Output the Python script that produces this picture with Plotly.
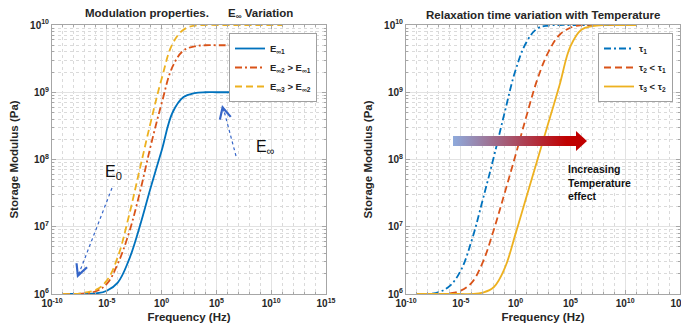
import base64
import plotly.graph_objects as go

# ---------------- data ----------------
freq = [1e-9, 1e-8, 1e-7, 1e-6, 1e-5, 1e-4, 1e-3, 1e-2, 1e-1, 1e0, 1e1,
        1e2, 1e3, 1e4, 1e5, 1e6, 1e7, 1e8, 1e9, 1e10, 1e11]

# left panel : E_inf variation
E_inf1 = [1.0e6, 1.0e6, 1.0e6, 1.02e6, 1.12e6, 1.48e6, 3.16e6, 1.0e7, 3.8e7, 1.35e8, 5.0e8,
          8.5e8, 9.7e8, 1.0e9, 1.0e9, 1.0e9, 1.0e9, 1.0e9, 1.0e9, 1.0e9, 1.0e9]
E_inf2 = [1.0e6, 1.0e6, 1.02e6, 1.1e6, 1.41e6, 2.82e6, 7.9e6, 3.16e7, 1.58e8, 6.8e8, 2.4e9,
          4.17e9, 4.8e9, 5.0e9, 5.0e9, 5.0e9, 5.0e9, 5.0e9, 5.0e9, 5.0e9, 5.0e9]
E_inf3 = [1.0e6, 1.0e6, 1.05e6, 1.15e6, 1.58e6, 3.55e6, 1.41e7, 7.1e7, 3.55e8, 1.58e9, 5.25e9,
          8.5e9, 9.8e9, 1.0e10, 1.0e10, 1.0e10, 1.0e10, 1.0e10, 1.0e10, 1.0e10, 1.0e10]

# right panel : relaxation time variation
tau1 = [1.0e6, 1.0e6, 1.07e6, 1.32e6, 2.24e6, 6.3e6, 2.51e7, 1.07e8, 5.0e8, 2.14e9, 5.6e9,
        8.9e9, 9.8e9, 1.0e10, 1.0e10, 1.0e10, 1.0e10, 1.0e10, 1.0e10, 1.0e10, 1.0e10]
tau2 = [1.0e6, 1.0e6, 1.0e6, 1.02e6, 1.12e6, 1.48e6, 2.95e6, 8.9e6, 3.16e7, 1.17e8, 4.47e8,
        1.58e9, 3.98e9, 7.1e9, 9.1e9, 1.0e10, 1.0e10, 1.0e10, 1.0e10, 1.0e10, 1.0e10]
tau3 = [1.0e6, 1.0e6, 1.0e6, 1.0e6, 1.0e6, 1.0e6, 1.05e6, 1.26e6, 2.4e6, 7.9e6, 2.82e7,
        1.0e8, 3.55e8, 1.26e9, 4.8e9, 8.5e9, 9.6e9, 1.0e10, 1.0e10, 1.0e10, 1.0e10]

x_tickvals = [1e-10, 1e-5, 1e0, 1e5, 1e10, 1e15]
x_ticktext = ["10<sup>-10</sup>", "10<sup>-5</sup>", "10<sup>0</sup>",
              "10<sup>5</sup>", "10<sup>10</sup>", "10<sup>15</sup>"]
y_tickvals = [1e6, 1e7, 1e8, 1e9, 1e10]
y_ticktext = ["10<sup>6</sup>", "10<sup>7</sup>", "10<sup>8</sup>", "10<sup>9</sup>", "10<sup>10</sup>"]
x_minor = [10.0 ** k for k in range(-10, 16)]
y_minor = [m * 10.0 ** k for k in range(6, 10) for m in range(2, 10)]

BLUE, ORANGE, YELLOW = "#0072BD", "#D95319", "#EDB120"
FONT = "Liberation Sans"

# ---------------- layout geometry ----------------
W, H = 681, 328
L, R, T, B = 52, 1, 25, 34
PW, PH = W - L - R, H - T - B


def px(x):
    return (x - L) / PW


def py(y):
    return (H - B - y) / PH


fig = go.Figure()

DASH = "7px,4px"
DASHDOT = "7px,3px,2px,3px"
SM = 1.1

fig.add_trace(go.Scatter(x=freq, y=E_inf1, mode="lines", name="E<sub>∞1</sub>",
                         line=dict(color=BLUE, width=1.8, shape="spline", smoothing=SM),
                         xaxis="x", yaxis="y", legend="legend"))
fig.add_trace(go.Scatter(x=freq, y=E_inf2, mode="lines", name="E<sub>∞2</sub> > E<sub>∞1</sub>",
                         line=dict(color=ORANGE, width=1.8, dash=DASHDOT, shape="spline", smoothing=SM),
                         xaxis="x", yaxis="y", legend="legend"))
fig.add_trace(go.Scatter(x=freq, y=E_inf3, mode="lines", name="E<sub>∞3</sub> > E<sub>∞2</sub>",
                         line=dict(color=YELLOW, width=1.8, dash=DASH, shape="spline", smoothing=SM),
                         xaxis="x", yaxis="y", legend="legend"))

fig.add_trace(go.Scatter(x=freq, y=tau1, mode="lines", name="τ<sub>1</sub>",
                         line=dict(color=BLUE, width=1.8, dash=DASHDOT, shape="spline", smoothing=SM),
                         xaxis="x2", yaxis="y2", legend="legend2"))
fig.add_trace(go.Scatter(x=freq, y=tau2, mode="lines", name="τ<sub>2</sub> < τ<sub>1</sub>",
                         line=dict(color=ORANGE, width=1.8, dash=DASH, shape="spline", smoothing=SM),
                         xaxis="x2", yaxis="y2", legend="legend2"))
fig.add_trace(go.Scatter(x=freq, y=tau3, mode="lines", name="τ<sub>3</sub> < τ<sub>2</sub>",
                         line=dict(color=YELLOW, width=1.8, shape="spline", smoothing=SM),
                         xaxis="x2", yaxis="y2", legend="legend2"))

AX = "#a6a6a6"
tickfont = dict(family=FONT, size=10, color="#262626", weight="bold")
titlefont = dict(family=FONT, size=11.5, color="#262626", weight="bold")


def xaxis(domain, anchor):
    return dict(type="log", range=[-10, 15], domain=domain, anchor=anchor,
                tickmode="array", tickvals=x_tickvals, ticktext=x_ticktext,
                showgrid=True, gridcolor="#e2e2e2", gridwidth=1,
                minor=dict(tickmode="array", tickvals=x_minor, showgrid=True, griddash="dot",
                           gridcolor="#dadada", gridwidth=1, ticks="inside", ticklen=2, tickcolor=AX),
                ticks="inside", ticklen=4, tickcolor=AX, showline=True, linecolor=AX, linewidth=1,
                mirror="allticks", zeroline=False, tickfont=tickfont, ticklabeloverflow="allow",
                title=dict(text="Frequency (Hz)", font=titlefont, standoff=4))


def yaxis(domain, anchor):
    return dict(type="log", range=[6, 10], domain=domain, anchor=anchor,
                tickmode="array", tickvals=y_tickvals, ticktext=y_ticktext,
                showgrid=True, gridcolor="#e2e2e2", gridwidth=1,
                minor=dict(tickmode="array", tickvals=y_minor, showgrid=True, griddash="dot",
                           gridcolor="#dadada", gridwidth=1, ticks="inside", ticklen=2, tickcolor=AX),
                ticks="inside", ticklen=4, tickcolor=AX, showline=True, linecolor=AX, linewidth=1,
                mirror="allticks", zeroline=False, tickfont=tickfont,
                title=dict(text="Storage Modulus (Pa)", font=titlefont, standoff=9))


xd1 = [0, px(326)]
xd2 = [px(406), 1]

legend_common = dict(bgcolor="white", bordercolor="#a0a0a0", borderwidth=1,
                     font=dict(family=FONT, size=9.5, color="#262626", weight="bold"),
                     xanchor="right", yanchor="top", itemwidth=30, tracegroupgap=0)

fig.update_layout(
    width=W, height=H, margin=dict(l=L, r=R, t=T, b=B, autoexpand=False),
    paper_bgcolor="white", plot_bgcolor="white",
    font=dict(family=FONT, color="#262626"),
    xaxis=xaxis(xd1, "y"), yaxis=yaxis([0, 1], "x"),
    xaxis2=xaxis(xd2, "y2"), yaxis2=yaxis([0, 1], "x2"),
    legend=dict(x=px(317), y=py(33), **legend_common),
    legend2=dict(x=px(673), y=py(33), **legend_common),
    showlegend=True,
)

NB = "\u00a0"
ARROW_C = "#3565c8"
annotations = [
    dict(text="<b>Modulation properties." + NB * 6 + "E<sub>∞</sub> Variation</b>",
         x=px(189), y=py(14), xref="paper", yref="paper", showarrow=False,
         font=dict(family=FONT, size=11.5, color="#262626"), xanchor="center", yanchor="middle"),
    dict(text="<b>Relaxation time variation with Temperature</b>",
         x=px(543), y=py(15), xref="paper", yref="paper", showarrow=False,
         font=dict(family=FONT, size=11.5, color="#262626"), xanchor="center", yanchor="middle"),
    dict(text="E<sub>0</sub>", x=px(113), y=py(172), xref="paper", yref="paper", showarrow=False,
         font=dict(family=FONT, size=16, color="#111111"), xanchor="center", yanchor="middle"),
    dict(text="E<sub>∞</sub>", x=px(265), y=py(147), xref="paper", yref="paper", showarrow=False,
         font=dict(family=FONT, size=16, color="#111111"), xanchor="center", yanchor="middle"),
    dict(text="<b>Increasing<br>Temperature<br>effect</b>", x=px(566), y=py(161),
         xref="paper", yref="paper", showarrow=False, align="left",
         font=dict(family=FONT, size=10.5, color="#111111"), xanchor="left", yanchor="top"),
    # arrow heads
    dict(text="", x=px(77), y=py(278), xref="paper", yref="paper", showarrow=True,
         ax=3, ay=-8, arrowhead=5, arrowsize=2.2, arrowwidth=1.0, arrowcolor=ARROW_C),
    dict(text="", x=px(222), y=py(105), xref="paper", yref="paper", showarrow=True,
         ax=2, ay=8, arrowhead=5, arrowsize=2.2, arrowwidth=1.0, arrowcolor=ARROW_C),
]
fig.update_layout(annotations=annotations)

shapes = [
    dict(type="line", xref="paper", yref="paper", x0=px(112), y0=py(188), x1=px(78), y1=py(276),
         line=dict(color=ARROW_C, width=1.2, dash="dot")),
    dict(type="line", xref="paper", yref="paper", x0=px(236), y0=py(156), x1=px(223), y1=py(107),
         line=dict(color=ARROW_C, width=1.2, dash="dot")),
]
fig.update_layout(shapes=shapes)

svg = ('<svg xmlns="http://www.w3.org/2000/svg" width="134" height="20" viewBox="0 0 134 20" '
       'preserveAspectRatio="none"><defs><linearGradient id="g" x1="0" y1="0" x2="1" y2="0">'
       '<stop offset="0" stop-color="#8eaadc"/><stop offset="0.85" stop-color="#c00000"/>'
       '<stop offset="1" stop-color="#c00000"/></linearGradient></defs>'
       '<path d="M0,5 H123 V0 L134,10 L123,20 V15 H0 Z" fill="url(#g)"/></svg>')
src = "data:image/svg+xml;base64," + base64.b64encode(svg.encode()).decode()
fig.add_layout_image(dict(source=src, xref="paper", yref="paper", x=px(453), y=py(131),
                          sizex=(587 - 453) / PW, sizey=20 / PH, xanchor="left", yanchor="top",
                          sizing="stretch", layer="above"))

fig.write_html("out.html", config={"displayModeBar": False},
               post_script="document.body.style.margin='0';")
